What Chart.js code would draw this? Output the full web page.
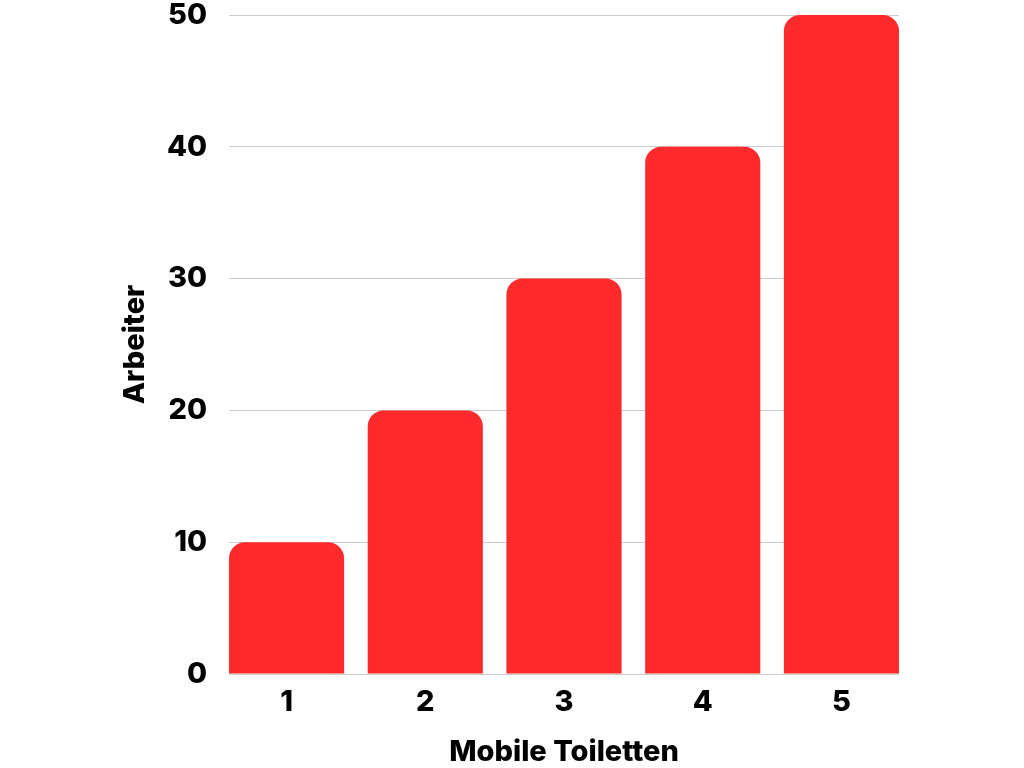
<!DOCTYPE html>
<html>
<head>
<meta charset="utf-8">
<script src="https://cdn.jsdelivr.net/npm/chart.js@4"></script>
<style>
  html, body { margin: 0; padding: 0; background: #fff; }
  #wrap { width: 1024px; height: 768px; }
</style>
</head>
<body>
<div id="wrap"><canvas id="chart"></canvas></div>
<script>
// Mobile Toiletten vs. Arbeiter
const toiletten = [1, 2, 3, 4, 5];
const arbeiter = [10, 20, 30, 40, 50];
const yTicks = [0, 10, 20, 30, 40, 50];

const BAR_COLOR = '#FE2A2C';
const GRID_COLOR = '#CCCCCC';
const FONT = { family: 'Inter', size: 29, weight: '800' };

// bars sit flush with the plot edges, so pad the x range by half a bar
const barPct = 0.83;
const xPad = barPct / 2;

new Chart(document.getElementById('chart'), {
    type: 'bar',
    data: {
        datasets: [{
            data: toiletten.map((t, i) => ({ x: t, y: arbeiter[i] })),
            backgroundColor: BAR_COLOR,
            borderRadius: 16,
            borderSkipped: 'start',
            categoryPercentage: 1,
            barPercentage: barPct,
        }]
    },
    options: {
        responsive: true,
        maintainAspectRatio: false,
        animation: false,
        layout: { padding: { top: 15, right: 125, left: 114, bottom: 0 } },
        plugins: {
            legend: { display: false },
            tooltip: { enabled: false },
        },
        scales: {
            x: {
                type: 'linear',
                offset: false,
                min: toiletten[0] - xPad,
                max: toiletten[toiletten.length - 1] + xPad,
                afterBuildTicks: (axis) => {
                    axis.ticks = toiletten.map(v => ({ value: v }));
                },
                afterFit: (axis) => {
                    axis.height = 94;
                    axis.paddingLeft = 0;
                    axis.paddingRight = 0;
                },
                grid: { display: false },
                border: { display: false },
                ticks: { color: '#000', font: FONT, padding: 3 },
                title: {
                    display: true,
                    text: 'Mobile Toiletten',
                    color: '#000',
                    font: FONT,
                    padding: { top: 4, bottom: -2 },
                },
            },
            y: {
                min: yTicks[0],
                max: yTicks[yTicks.length - 1],
                afterBuildTicks: (axis) => {
                    axis.ticks = yTicks.map(v => ({ value: v }));
                },
                afterFit: (axis) => {
                    axis.width = 115;
                    axis.paddingTop = 0;
                    axis.paddingBottom = 0;
                },
                grid: { color: GRID_COLOR, lineWidth: 1, drawTicks: false },
                border: { display: false },
                ticks: { color: '#000', font: FONT, padding: 22 },
                title: {
                    display: true,
                    text: 'Arbeiter',
                    color: '#000',
                    font: FONT,
                    padding: { top: 4, bottom: 4 },
                },
            },
        },
    },
});
</script>
</body>
</html>
